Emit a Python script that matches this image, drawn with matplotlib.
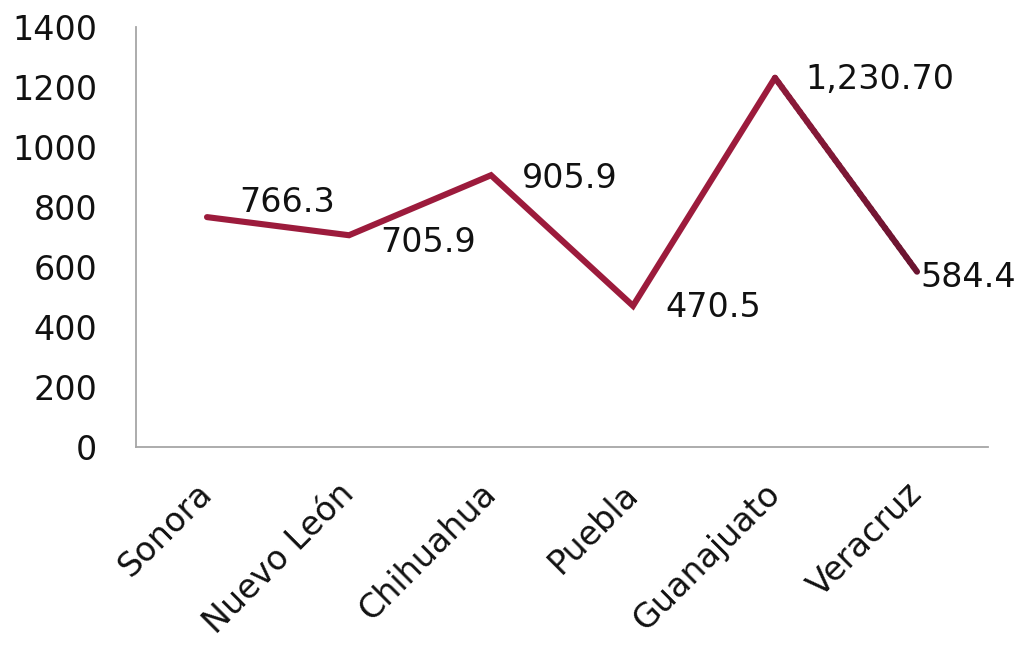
import matplotlib
matplotlib.use("Agg")
import matplotlib.pyplot as plt
import numpy as np
from matplotlib.collections import LineCollection
from matplotlib.colors import LinearSegmentedColormap

states = ["Sonora", "Nuevo León", "Chihuahua", "Puebla", "Guanajuato", "Veracruz"]
values = [766.3, 705.9, 905.9, 470.5, 1230.70, 584.4]
value_labels = ["766.3", "705.9", "905.9", "470.5", "1,230.70", "584.4"]
yticks = [0, 200, 400, 600, 800, 1000, 1200, 1400]

plt.rcParams['font.family'] = ['DejaVu Sans']

fig = plt.figure(figsize=(10.23, 6.54), dpi=100)
ax = fig.add_axes([136/1023, 1-447/654, (988-136)/1023, (447-27)/654])

x = np.arange(len(states))
main_color = "#9C1B3C"
lw = 4.4

# Main segments
ax.plot(x[:-1], values[:-1], color=main_color, lw=lw, solid_capstyle='round',
        solid_joinstyle='miter', zorder=3)

# Last segment with gradient towards darker tone
n = 40
t = np.linspace(0, 1, n + 1)
xs = x[-2] + (x[-1] - x[-2]) * t
ys = values[-2] + (values[-1] - values[-2]) * t
pts = np.column_stack([xs, ys]).reshape(-1, 1, 2)
segs = np.concatenate([pts[:-1], pts[1:]], axis=1)
cmap = LinearSegmentedColormap.from_list("grad", ["#8E1A3A", "#6A1430"])
lc = LineCollection(segs, colors=cmap(np.linspace(0, 1, n)), linewidths=lw,
                    capstyle='round', zorder=3)
ax.add_collection(lc)

# Value labels
offsets = [(32, 15), (31, -7), (31, -3), (32, -2), (30, -2), (3, -6)]
for xi, v, lab, off in zip(x, values, value_labels, offsets):
    ax.annotate(lab, (xi, v), xytext=off, textcoords='offset pixels',
                ha='left', va='center', fontsize=24, color='#111111', zorder=4)

ax.set_xlim(-0.5, len(states) - 0.5)
ax.set_ylim(0, 1400)
ax.set_yticks(yticks)
ax.set_yticklabels([str(v) for v in yticks], fontsize=24, color='#111111')
ax.set_xticks(x)
ax.set_xticklabels(states, fontsize=24, color='#111111', rotation=45,
                   ha='right', va='center', rotation_mode='anchor')
ax.tick_params(axis='y', length=0, pad=28)
ax.tick_params(axis='x', length=0, pad=30)

for s in ['top', 'right']:
    ax.spines[s].set_visible(False)
for s in ['left', 'bottom']:
    ax.spines[s].set_color('#A6A6A6')
    ax.spines[s].set_linewidth(1.3)

fig.savefig("out.png", dpi=100)
